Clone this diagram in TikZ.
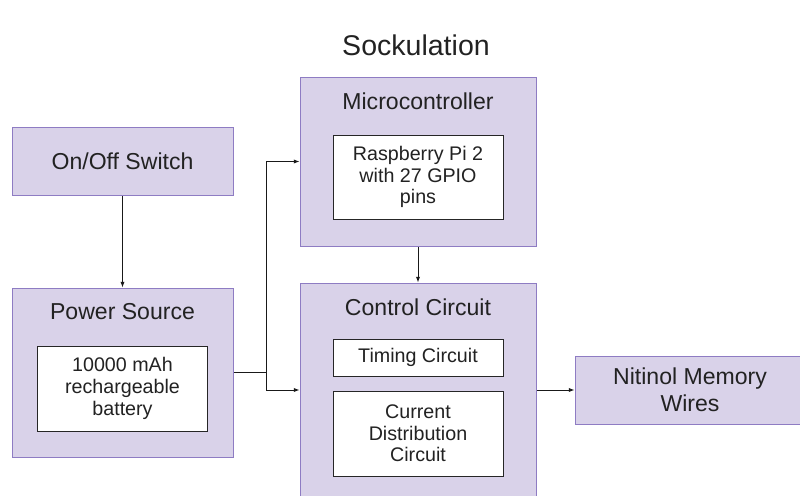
\documentclass[tikz,border=0pt]{standalone}
\usepackage{fontspec}
\setmainfont{Liberation Sans}
\usetikzlibrary{arrows.meta}
\pgfdeclarelayer{bg}
\pgfsetlayers{bg,main}
\definecolor{blockfill}{HTML}{D9D2E9}
\definecolor{blockline}{HTML}{8E7CC3}
\definecolor{txt}{HTML}{222222}
\tikzset{
    every node/.style={inner sep=0mm, text=txt},
    block/.style={rectangle, draw=blockline, fill=blockfill, line width=0.7pt, align=center, font=\fontsize{16.4}{19}\selectfont},
    inbox/.style={rectangle, draw=black!85, fill=white, line width=0.7pt, align=center, minimum width=4.25cm, font=\fontsize{14}{15.4}\selectfont},
    lbl/.style={font=\fontsize{16.4}{19}\selectfont},
    arr/.style={-{Latex[length=4pt,width=3pt]}, line width=0.7pt, black!90}
}

\begin{document}
\begin{tikzpicture}
        \useasboundingbox (0,0) rectangle (20,-12.375);
        \node (ttl) [font=\fontsize{20.3}{24}\selectfont] at (10.4,-1.125) {Sockulation};
        \node (sw) [block, minimum width=5.525cm, minimum height=1.7cm] at (3.0625,-4.025) {On/Off Switch};
        \node (pwr) [block, minimum width=5.525cm, minimum height=4.225cm] at (3.0625,-9.3125) {};
        \node (pwrlbl) [lbl] at (3.0625,-7.8) {Power Source};
        \node (bat) [inbox, minimum height=2.125cm] at (3.0625,-9.7125) {10000 mAh\\rechargeable\\battery};
        \node (mc) [block, minimum width=5.9cm, minimum height=4.225cm] at (10.45,-4.0375) {};
        \node (mclbl) [lbl] at (10.45,-2.525) {Microcontroller};
        \node (rpi) [inbox, minimum height=2.1cm] at (10.45,-4.425) {Raspberry Pi 2\\with 27 GPIO\\pins};
        \node (cc) [block, minimum width=5.9cm, minimum height=5.35cm] at (10.45,-9.75) {};
        \node (cclbl) [lbl] at (10.45,-7.675) {Control Circuit};
        \node (tim) [inbox, minimum height=0.925cm] at (10.45,-8.9375) {Timing Circuit};
        \node (cur) [inbox, minimum height=2.125cm] at (10.45,-10.8375) {Current\\Distribution\\Circuit};
        \node (nit) [block, minimum width=5.75cm, minimum height=1.7cm] at (17.25,-9.75) {Nitinol Memory\\Wires};
        \coordinate (jn) at (6.65,-9.3125);
        \begin{pgfonlayer}{bg}
                \draw[arr] (sw) -- (pwr);
                \draw[arr] (mc) -- (cc);
                \draw[arr] (pwr.east) -- (jn) |- (mc.west);
                \draw[arr] (jn) |- (cc.west);
                \draw[arr] (cc) -- (nit);
        \end{pgfonlayer}
\end{tikzpicture}
\end{document}
